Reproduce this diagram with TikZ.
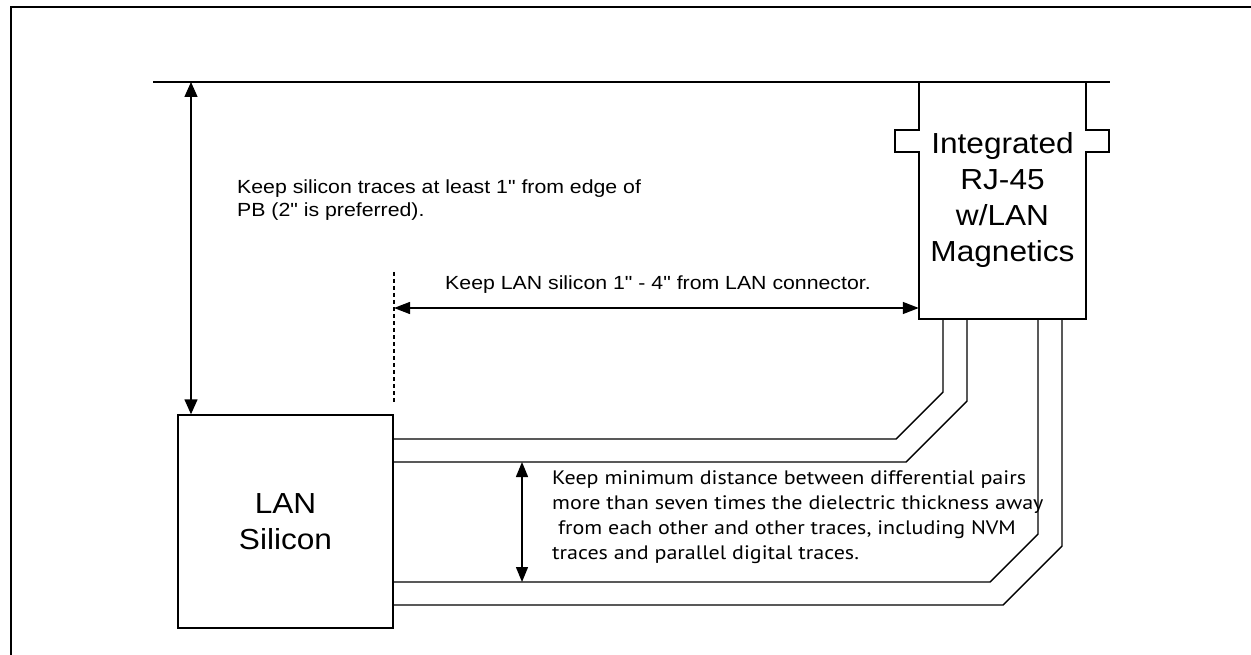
\documentclass[tikz,border=0pt]{standalone}
\usepackage{fontspec}
\setmainfont{Liberation Sans}
\newfontfamily\bigfont[FakeStretch=1.09]{Liberation Sans}
\newfontfamily\smallfont[FakeStretch=1.12]{Liberation Sans}
\newfontfamily\notefont[FakeStretch=1.13]{PT Sans}
\newcommand\qq{\symbol{34}}
\usetikzlibrary{arrows.meta}
\tikzset{
  frame/.style={line width=2.2pt},
  board/.style={line width=1.8pt},
  outline/.style={line width=1.4pt},
  trace/.style={line width=1.4pt},
  dimarrow/.style={line width=1.4pt, {Triangle[length=15pt,width=13pt]}-{Triangle[length=15pt,width=13pt]}},
  guide/.style={line width=1.1pt, dash pattern=on 4pt off 3pt},
  bigtext/.style={font=\bigfont\fontsize{29}{36}\selectfont, align=center, inner sep=0pt},
  smalltext/.style={font=\smallfont\fontsize{19}{22.7}\selectfont, align=left, inner sep=0pt},
  notetext/.style={font=\notefont\fontsize{19.5}{25}\selectfont, align=left, inner sep=0pt}
}
\begin{document}
\begin{tikzpicture}[x=1pt,y=-1pt]
\useasboundingbox (0,0) rectangle (1251,655);
% outer frame
\draw[frame] (11,655) -- (11,7) -- (1251,7);
% board edge
\coordinate (edgeL) at (153,82);
\coordinate (edgeR) at (1110,82);
\draw[board] (edgeL) -- (edgeR);
% connector
\node[bigtext, minimum width=167pt, minimum height=237pt] (conn) at (1002.5,200.5) {Integrated\\RJ-45\\w/LAN\\Magnetics};
\draw[outline] (919,82) -- (919,130) -- (895,130) -- (895,152) -- (919,152) -- (919,319)
  -- (1086,319) -- (1086,152) -- (1109,152) -- (1109,130) -- (1086,130) -- (1086,82);
% LAN silicon
\node[bigtext, draw, outline, minimum width=215pt, minimum height=213pt] (sil) at (285.5,521.5) {LAN\\Silicon};
% left vertical dimension
\coordinate (topA) at (191,82);
\draw[dimarrow] (topA) -- (topA |- sil.north);
\node[smalltext, anchor=west] (edgeNote) at (237,200) {Keep silicon traces at least 1\qq{} from edge of\\PB (2\qq{} is preferred).};
% dashed guide and horizontal dimension
\coordinate (gTop) at (394,272);
\coordinate (gBot) at (394,403);
\draw[guide] (gTop) -- (gBot);
\coordinate (hL) at (394,308);
\draw[dimarrow, {Triangle[length=16pt,width=12pt]}-{Triangle[length=16pt,width=12pt]}] (hL) -- (hL -| conn.west);
\node[smalltext, anchor=center] (lanNote) at (658,285) {Keep LAN silicon 1\qq{} - 4\qq{} from LAN connector.};
% traces
\draw[trace] (sil.east |- 0,439) -- (896,439) -- (943,392) -- (943,319);
\draw[trace] (sil.east |- 0,462) -- (906,462) -- (967,401) -- (967,319);
\draw[trace] (sil.east |- 0,582) -- (990,582) -- (1038,534) -- (1038,319);
\draw[trace] (sil.east |- 0,605) -- (1003,605) -- (1062,546) -- (1062,319);
% middle dimension
\coordinate (mTop) at (522,462);
\coordinate (mBot) at (522,582);
\draw[dimarrow, {Triangle[length=15pt,width=12pt]}-{Triangle[length=15pt,width=12pt]}] (mTop) -- (mBot);
\node[notetext, anchor=west] (pairNote) at (552,517) {Keep minimum distance between differential pairs\\more than seven times the dielectric thickness away\\\ from each other and other traces, including NVM\\traces and parallel digital traces.};
\end{tikzpicture}
\end{document}
